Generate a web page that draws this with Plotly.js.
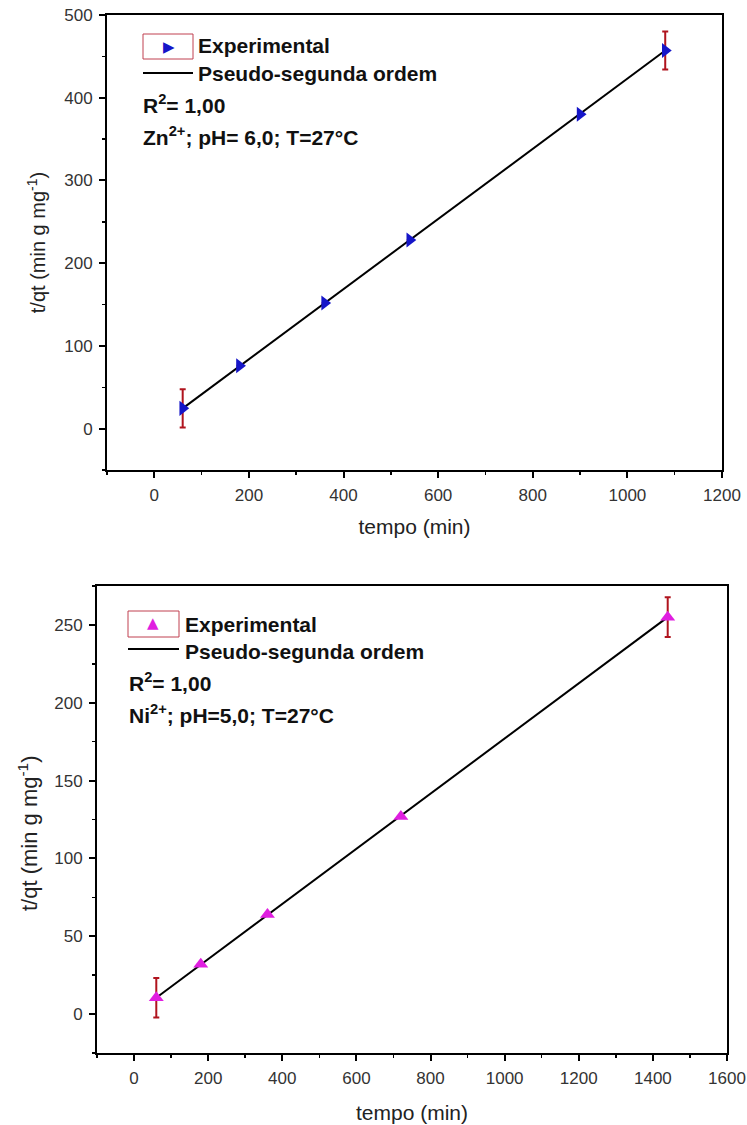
<!DOCTYPE html>
<html>
<head>
<meta charset="utf-8">
<script src="https://cdn.plot.ly/plotly-3.0.1.min.js"></script>
<style>html,body{margin:0;padding:0;background:#fff;}#chart{width:747px;height:1125px;}</style>
</head>
<body>
<div id="chart"></div>
<script>
// ---- Data ----
// Zn2+ panel
const znTime = [60, 180, 360, 540, 900, 1080];
const znTq = [24.5, 76, 152, 228, 380, 457];
const znErr = [23, null, null, null, null, 23];
const znFitTime = [60, 1080];
const znFitTq = [24.5, 457];
// Ni2+ panel
const niTime = [60, 180, 360, 720, 1440];
const niTq = [10.5, 32, 64, 127, 255];
const niErr = [12.7, null, null, null, 12.7];
const niFitTime = [60, 1440];
const niFitTq = [10.5, 255];
// Text
const legendExp = "Experimental";
const legendFit = "Pseudo-segunda ordem";
const znR2 = "R<sup>2</sup>= 1,00";
const znCond = "Zn<sup>2+</sup>; pH= 6,0; T=27°C";
const niR2 = "R<sup>2</sup>= 1,00";
const niCond = "Ni<sup>2+</sup>; pH=5,0; T=27°C";
const xTitle = "tempo (min)";
const yTitle = "t/qt (min g mg<sup>-1</sup>)";

const W = 747, H = 1125;
const px = x => x / W;
const py = y => 1 - y / H;
const FONT = "Liberation Sans, Arial, sans-serif";
const errColor = "#b0141e";

const traces = [
  {x: znFitTime, y: znFitTq, mode: "lines", line: {color: "#000", width: 2}, xaxis: "x", yaxis: "y", showlegend: false, hoverinfo: "skip"},
  {x: znTime, y: znTq, mode: "markers", xaxis: "x", yaxis: "y", showlegend: false,
   marker: {symbol: "triangle-right", size: 13, color: "#1515c8"},
   error_y: {type: "data", array: znErr, visible: true, color: errColor, thickness: 2, width: 3}},
  {x: niFitTime, y: niFitTq, mode: "lines", line: {color: "#000", width: 2}, xaxis: "x2", yaxis: "y2", showlegend: false, hoverinfo: "skip"},
  {x: niTime, y: niTq, mode: "markers", xaxis: "x2", yaxis: "y2", showlegend: false,
   marker: {symbol: "triangle-up", size: 13, color: "#e01ee0"},
   error_y: {type: "data", array: niErr, visible: true, color: errColor, thickness: 2, width: 3}}
];

function axisBase(extra) {
  return Object.assign({
    showline: true, mirror: true, linecolor: "#000", linewidth: 2,
    ticks: "outside", ticklen: 6, tickwidth: 2, tickcolor: "#000",
    showgrid: false, zeroline: false,
    tickfont: {family: FONT, size: 17, color: "#333"},
    ticklabelstandoff: 3
  }, extra);
}

const titleFont = {family: FONT, size: 21, color: "#222"};

const layout = {
  width: W, height: H,
  margin: {l: 0, r: 0, t: 0, b: 0},
  paper_bgcolor: "#fff", plot_bgcolor: "#fff",
  showlegend: false,
  xaxis: axisBase({domain: [px(107), px(722)], range: [-100, 1200], dtick: 200, tick0: 0,
    minor: {ticks: "outside", ticklen: 3, tickwidth: 1.5, dtick: 100, tick0: 0, tickcolor: "#000"},
    title: {text: xTitle, font: titleFont, standoff: 15}, anchor: "y"}),
  yaxis: axisBase({domain: [py(470), py(15)], range: [-50, 500], dtick: 100, tick0: 0,
    minor: {ticks: "outside", ticklen: 3, tickwidth: 1.5, dtick: 50, tick0: 0, tickcolor: "#000"},
    title: {text: yTitle, font: {family: FONT, size: 20, color: "#222"}, standoff: 13}, anchor: "x"}),
  xaxis2: axisBase({domain: [px(97), px(727)], range: [-100, 1600], dtick: 200, tick0: 0,
    minor: {ticks: "outside", ticklen: 3, tickwidth: 1.5, dtick: 100, tick0: 0, tickcolor: "#000"},
    title: {text: xTitle, font: titleFont, standoff: 18}, anchor: "y2"}),
  yaxis2: axisBase({domain: [py(1053), py(586)], range: [-25, 275], dtick: 50, tick0: 0,
    minor: {ticks: "outside", ticklen: 3, tickwidth: 1.5, dtick: 25, tick0: 0, tickcolor: "#000"},
    anchor: "x2"}),
  shapes: [
    {type: "rect", xref: "paper", yref: "paper", x0: px(143), x1: px(193), y0: py(59), y1: py(34), line: {color: "#c04050", width: 1}},
    {type: "line", xref: "paper", yref: "paper", x0: px(143), x1: px(193), y0: py(73), y1: py(73), line: {color: "#000", width: 2}},
    {type: "rect", xref: "paper", yref: "paper", x0: px(128), x1: px(179), y0: py(637), y1: py(611), line: {color: "#c04050", width: 1}},
    {type: "line", xref: "paper", yref: "paper", x0: px(128), x1: px(179), y0: py(649), y1: py(649), line: {color: "#000", width: 2}}
  ],
  annotations: []
};

function ann(text, x, y, opts) {
  layout.annotations.push(Object.assign({
    text: text, xref: "paper", yref: "paper", x: px(x), y: py(y),
    xanchor: "left", yanchor: "middle", showarrow: false,
    font: {family: FONT, size: 21, color: "#111", weight: "bold"}
  }, opts || {}));
}
// Top panel legend / notes
ann("▶", 169, 47, {xanchor: "center", font: {family: "DejaVu Sans", size: 15, color: "#1515c8"}});
ann(legendExp, 196, 46);
ann(legendFit, 196, 73);
ann(znR2, 141, 104);
ann(znCond, 141, 136);
// Bottom panel legend / notes
ann("▲", 153, 623, {xanchor: "center", font: {family: "DejaVu Sans", size: 15, color: "#e01ee0"}});
ann(legendExp, 183, 624);
ann(legendFit, 183, 651);
ann(niR2, 127, 682);
ann(niCond, 127, 714);
// Bottom panel y-axis title
ann(yTitle, 28, 833, {xanchor: "center", textangle: -90, font: {family: FONT, size: 22, color: "#222"}});

Plotly.newPlot("chart", traces, layout, {staticPlot: true, displayModeBar: false});
</script>
</body>
</html>
